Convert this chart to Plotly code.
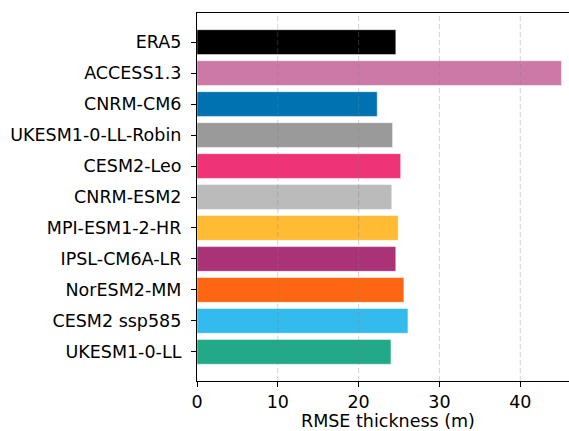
import plotly.graph_objects as go

# Model names, top to bottom
models = [
    "ERA5", "ACCESS1.3", "CNRM-CM6", "UKESM1-0-LL-Robin", "CESM2-Leo",
    "CNRM-ESM2", "MPI-ESM1-2-HR", "IPSL-CM6A-LR", "NorESM2-MM",
    "CESM2 ssp585", "UKESM1-0-LL",
]
# RMSE of thickness (m)
rmse = [24.6, 45.1, 22.3, 24.2, 25.2, 24.1, 24.9, 24.6, 25.6, 26.1, 24.0]
colors = [
    "#000000", "#CC79A7", "#0072B2", "#9A9A9A", "#EE3377", "#BBBBBB",
    "#FFBB33", "#AA3377", "#FF6611", "#33BBEE", "#22AA88",
]
x_ticks = [0, 10, 20, 30, 40]
x_max = 46.03

fig = go.Figure(
    go.Bar(
        x=rmse,
        y=list(range(len(models))),
        orientation="h",
        marker=dict(color=colors, line=dict(color="rgba(255,255,255,0.6)", width=0.8)),
        width=0.8,
    )
)

# dashed vertical grid drawn on top of the bars
for t in x_ticks[1:]:
    fig.add_shape(
        type="line", xref="x", yref="paper", x0=t, x1=t, y0=0, y1=1,
        line=dict(color="rgba(128,128,128,0.35)", width=1, dash="5px,3px"),
        layer="above",
    )

font = dict(family="DejaVu Sans", size=17.5, color="black")

# x-axis title, centred on the full (partly clipped) axis span
fig.add_annotation(
    text="RMSE thickness (m)", xref="paper", yref="paper",
    x=0.5134, y=-0.108, xanchor="center", yanchor="middle",
    showarrow=False, font=font,
)

fig.update_layout(
    width=569, height=431,
    margin=dict(l=197, r=0, t=13, b=50),
    plot_bgcolor="white", paper_bgcolor="white",
    showlegend=False,
    font=font,
    xaxis=dict(
        range=[0, x_max], tickvals=x_ticks, ticktext=[str(t) for t in x_ticks],
        showgrid=False, zeroline=False,
        showline=True, linecolor="black", linewidth=1.2, mirror=True,
        ticks="outside", ticklen=5, tickcolor="black", tickwidth=1,
        tickfont=font,
    ),
    yaxis=dict(
        range=[10.94, -0.94],
        tickvals=list(range(len(models))), ticktext=models,
        showgrid=False, zeroline=False,
        showline=True, linecolor="black", linewidth=1.2,
        ticks="outside", ticklen=5, tickcolor="black", tickwidth=1,
        tickfont=font, ticklabelstandoff=6,
    ),
)

fig.write_html("out.html")
